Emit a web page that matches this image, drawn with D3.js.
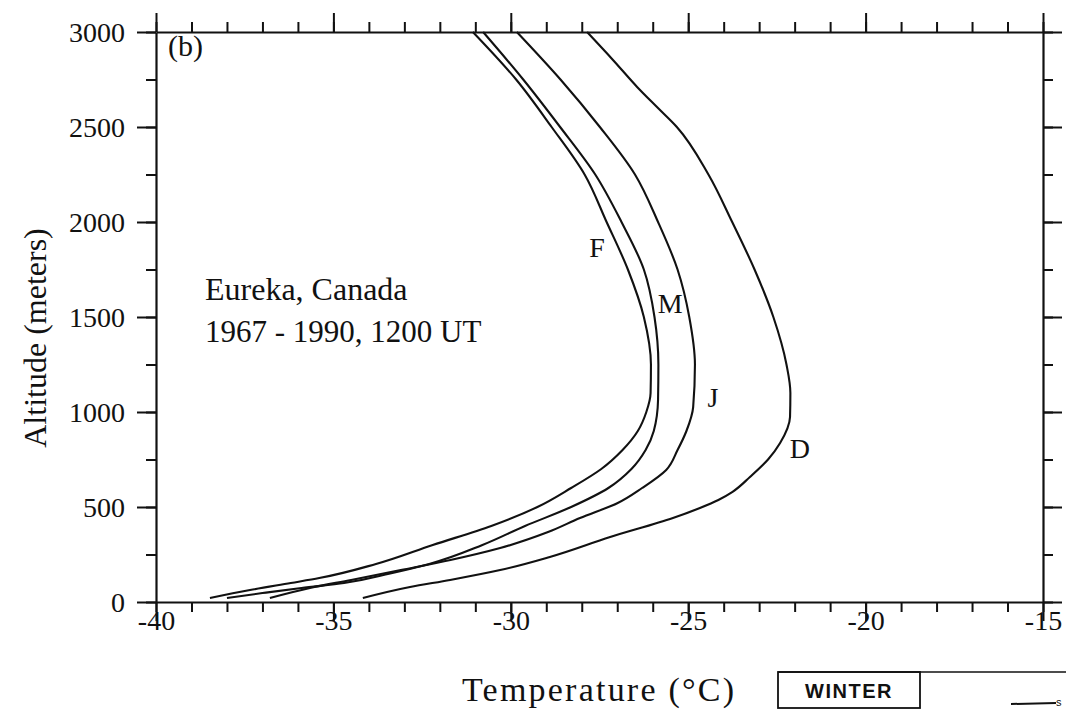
<!DOCTYPE html>
<html>
<head>
<meta charset="utf-8">
<script src="https://cdn.jsdelivr.net/npm/d3@7"></script>
<style>
  html, body { margin: 0; padding: 0; background: #fff; }
  svg { display: block; }
  .serif { font-family: "Liberation Serif", "Times New Roman", serif; fill: #111; }
</style>
</head>
<body>
<svg id="chart" width="1066" height="712"></svg>
<script>
// Monthly mean temperature profiles, Eureka, 1200 UT.
// Each profile: temperatures (°C) at the listed altitudes (m).
const altF = [3000, 2750, 2500, 2250, 2000, 1750, 1500, 1250, 1100, 1000, 900, 800, 700, 600, 500, 400, 300, 200, 126, 100, 63, 21];
const tempF = [-31.07, -29.85, -28.85, -27.92, -27.3, -26.7, -26.25, -26.05, -26.06, -26.18, -26.42, -26.85, -27.45, -28.3, -29.25, -30.55, -32.2, -33.8, -35.4, -36.2, -37.35, -38.48];

const altM = [3000, 2750, 2500, 2250, 2000, 1750, 1500, 1250, 1063, 900, 800, 700, 600, 500, 400, 300, 200, 150, 100, 74, 47, 21];
const tempM = [-30.78, -29.65, -28.61, -27.62, -26.88, -26.25, -25.95, -25.84, -25.85, -25.97, -26.2, -26.6, -27.25, -28.3, -29.6, -30.8, -32.3, -33.4, -34.7, -35.9, -37.0, -38.0];

const altJ = [3000, 2750, 2500, 2250, 2000, 1750, 1500, 1250, 1026, 900, 800, 695, 600, 520, 442, 368, 284, 221, 168, 116, 74, 21];
const tempJ = [-29.83, -28.6, -27.49, -26.5, -25.85, -25.3, -24.97, -24.81, -24.86, -25.05, -25.3, -25.62, -26.3, -27.0, -28.05, -28.95, -30.3, -31.7, -33.1, -34.5, -35.66, -36.79];

const altD = [3000, 2853, 2711, 2605, 2500, 2250, 2000, 1750, 1500, 1250, 1100, 974, 837, 750, 658, 580, 537, 495, 442, 342, 237, 168, 116, 79, 21];
const tempD = [-27.85, -27.12, -26.44, -25.88, -25.32, -24.43, -23.76, -23.13, -22.6, -22.23, -22.12, -22.13, -22.41, -22.75, -23.26, -23.75, -24.15, -24.67, -25.43, -27.2, -28.9, -30.3, -31.71, -32.84, -34.17];

// Month letters and the (temperature, altitude) where each is written
const monthLabels = ["F", "M", "J", "D"];
const labelTemp = [-27.57, -25.51, -24.3, -21.85];
const labelAlt = [1868, 1574, 1079, 811];

// Axes
const xDomain = [-40, -15];
const yDomain = [0, 3000];
const xMajor = [-40, -35, -30, -25, -20, -15];
const yMajor = [0, 500, 1000, 1500, 2000, 2500, 3000];
const xMinor = d3.range(-40, -14, 1);
const yMinor = d3.range(0, 3001, 250);

const svg = d3.select("#chart");
const x = d3.scaleLinear().domain(xDomain).range([156, 1043]);
const y = d3.scaleLinear().domain(yDomain).range([602, 32]);

const series = [
  { alt: altF, temp: tempF },
  { alt: altM, temp: tempM },
  { alt: altJ, temp: tempJ },
  { alt: altD, temp: tempD }
];

// Profiles are single-valued in altitude, so interpolate monotonically along y
const line = d3.line()
  .x(d => x(d[0]))
  .y(d => y(d[1]))
  .curve(d3.curveMonotoneY);

svg.append("g")
  .selectAll("path")
  .data(series)
  .join("path")
  .attr("d", s => line(s.temp.map((t, i) => [t, s.alt[i]]).sort((a, b) => a[1] - b[1])))
  .attr("fill", "none")
  .attr("stroke", "#111")
  .attr("stroke-width", 2.1)
  .attr("stroke-linejoin", "round");

// Frame axes: minor ticks every 1 °C / 250 m, major every 5 °C / 500 m, all outward
function styleAxis(g) {
  g.selectAll("path.domain").attr("stroke", "#111").attr("stroke-width", 2.2);
  g.selectAll(".tick line").attr("stroke", "#111").attr("stroke-width", 2);
}

function frameAxis(axisFn, scale, pos, transform, major, minor, labels) {
  const gMinor = svg.append("g").attr("transform", transform)
    .call(axisFn(scale).tickValues(minor).tickSize(10).tickSizeOuter(0).tickFormat(""));
  styleAxis(gMinor);
  const gMajor = svg.append("g").attr("transform", transform)
    .call(axisFn(scale).tickValues(major).tickSize(19).tickSizeOuter(0)
      .tickPadding(pos === "left" ? 12 : 9)
      .tickFormat(labels ? (d => String(d)) : ""));
  styleAxis(gMajor);
  gMajor.select("path.domain").remove();
  gMajor.selectAll("text")
    .attr("class", "serif")
    .attr("font-size", 28)
    .attr("fill", "#111");
  return gMajor;
}

const gBottom = frameAxis(d3.axisBottom, x, "bottom", "translate(0,602)", xMajor, xMinor, true);
gBottom.selectAll("text").attr("y", 28).attr("dy", null);
frameAxis(d3.axisTop, x, "top", "translate(0,32)", xMajor, xMinor, false);
const gLeft = frameAxis(d3.axisLeft, y, "left", "translate(156,0)", yMajor, yMinor, true);
gLeft.selectAll("text").attr("dy", "0.34em");
frameAxis(d3.axisRight, y, "right", "translate(1043,0)", yMajor, yMinor, false);

// Axis titles
svg.append("text").attr("class", "serif")
  .attr("x", 598).attr("y", 701)
  .attr("text-anchor", "middle").attr("font-size", 34)
  .attr("textLength", 272).attr("lengthAdjust", "spacing")
  .text("Temperature (°C)");

svg.append("text").attr("class", "serif")
  .attr("transform", "translate(46,338) rotate(-90)")
  .attr("text-anchor", "middle").attr("font-size", 32)
  .text("Altitude (meters)");

// Panel tag and station caption
svg.append("text").attr("class", "serif")
  .attr("x", 168).attr("y", 56).attr("font-size", 30)
  .text("(b)");

svg.append("text").attr("class", "serif")
  .attr("x", 205).attr("y", 300).attr("font-size", 32)
  .text("Eureka, Canada");

svg.append("text").attr("class", "serif")
  .attr("x", 205).attr("y", 342).attr("font-size", 31)
  .text("1967 - 1990, 1200 UT");

// Month letters beside their profiles
svg.append("g")
  .selectAll("text")
  .data(monthLabels)
  .join("text")
  .attr("class", "serif")
  .attr("x", (d, i) => x(labelTemp[i]))
  .attr("y", (d, i) => y(labelAlt[i]))
  .attr("text-anchor", "middle")
  .attr("dy", "0.35em")
  .attr("font-size", 28)
  .text(d => d);

// Season box under the plot
const boxG = svg.append("g");
boxG.append("line").attr("x1", 778).attr("x2", 1066).attr("y1", 672).attr("y2", 672)
  .attr("stroke", "#111").attr("stroke-width", 1.6);
boxG.append("rect").attr("x", 778).attr("y", 672).attr("width", 142).attr("height", 36)
  .attr("fill", "none").attr("stroke", "#111").attr("stroke-width", 1.8);
boxG.append("text")
  .attr("x", 849).attr("y", 698)
  .attr("text-anchor", "middle")
  .attr("font-family", "Liberation Sans, Arial, sans-serif")
  .attr("font-weight", "bold").attr("font-size", 20)
  .attr("letter-spacing", 1.5)
  .attr("fill", "#111")
  .text("WINTER");
boxG.append("line").attr("x1", 1011).attr("x2", 1056).attr("y1", 704).attr("y2", 703)
  .attr("stroke", "#111").attr("stroke-width", 2);
boxG.append("text")
  .attr("x", 1056).attr("y", 706)
  .attr("font-family", "Liberation Sans, Arial, sans-serif")
  .attr("font-size", 11).attr("fill", "#111")
  .text("s");
</script>
</body>
</html>
